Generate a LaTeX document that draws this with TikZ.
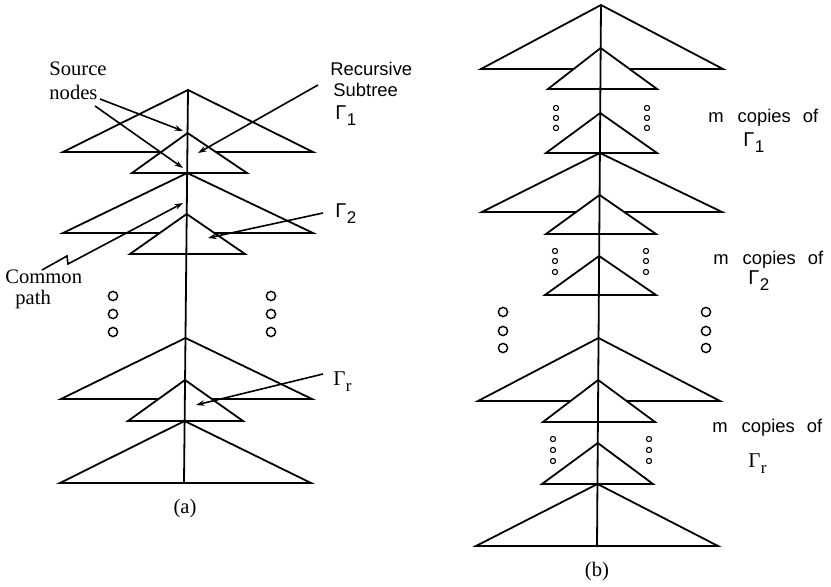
\documentclass[tikz,border=0pt]{standalone}
\usepackage{fontspec}
\setmainfont{Liberation Serif}
\setsansfont{Liberation Sans}
\usetikzlibrary{arrows.meta}
\newcommand\tritop[5]{\draw[tri] (#1,#2) -- (#4,#3) -- (#5,#3) -- cycle;}
\newcommand\gsub[2]{#1\kern0.2pt\raisebox{-2.8pt}{\fontsize{8.5}{9}\selectfont #2}}
\begin{document}
\begin{tikzpicture}[x=0.5pt,y=-0.5pt,
  tri/.style={draw=black, fill=white, line width=0.9pt, line join=miter},
  stem/.style={draw=black, line width=0.9pt},
  arr/.style={draw=black, line width=0.8pt, -{Stealth[length=4.2pt,width=2.8pt]}},
  dotbig/.style={draw=black, line width=0.7pt},
  dotsmall/.style={draw=black, line width=0.55pt},
  serlab/.style={font=\fontsize{10.3}{12}\selectfont, inner sep=0pt},
  sanslab/.style={font=\sffamily\fontsize{9.2}{11}\selectfont, inner sep=0pt},
  copylab/.style={font=\sffamily\fontsize{9.2}{11}\selectfont, inner sep=0pt},
  gam/.style={font=\sffamily\fontsize{10}{12}\selectfont, inner sep=0pt},
  gamser/.style={font=\fontsize{10.5}{12}\selectfont, inner sep=0pt}
]
\useasboundingbox (0,0) rectangle (831,587);

% ---------- (a) ----------
\tritop{188}{90}{152}{63}{313}
\tritop{187.6}{133}{173}{132}{247}
\tritop{187.2}{173}{233}{63}{313}
\tritop{186.7}{214}{254}{130}{245}
\tritop{185.5}{338}{399}{61}{312}
\tritop{185}{380}{421}{128}{243}
\tritop{184.6}{421}{483}{60}{311}
\draw[stem] (188,90) -- (184,483);

\foreach \yy in {296,314,332}{
  \draw[dotbig] (113,\yy) circle[radius=2.3pt];
  \draw[dotbig] (271,\yy) circle[radius=2.3pt];
}

\node[serlab, anchor=base west] (src1) at (49,76) {Source};
\node[serlab, anchor=base west] (src2) at (49,100) {nodes};
\node[sanslab, anchor=base west] (rec1) at (330,76) {Recursive};
\node[sanslab, anchor=base west] (rec2) at (333,97) {Subtree};
\node[gam, anchor=base west] (g1a) at (335,120) {\gsub{Γ}{1}};
\node[gam, anchor=base west] (g2a) at (335,218) {\gsub{Γ}{2}};
\node[gamser, anchor=base west] (gra) at (333,386) {\gsub{Γ}{r}};
\node[serlab, anchor=base west] (com1) at (5,284) {Common};
\node[serlab, anchor=base west] (com2) at (15,305) {path};
\node[serlab, anchor=base] (capa) at (185,514) {(a)};

\coordinate (sA0) at (100,99);
\coordinate (sA1) at (183,131);
\coordinate (sB0) at (95,106);
\coordinate (sB1) at (183,168);
\coordinate (rc0) at (318,85);
\coordinate (rc1) at (198,153);
\coordinate (g20) at (323,213);
\coordinate (g21) at (208,238);
\coordinate (gr0) at (323,374);
\coordinate (gr1) at (196,405);
\coordinate (cp0) at (42,270);
\coordinate (cpa) at (67,256);
\coordinate (cpb) at (68,264);
\coordinate (cp1) at (183,203);

\draw[arr] (sA0) -- (sA1);
\draw[arr] (sB0) -- (sB1);
\draw[arr] (rc0) -- (rc1);
\draw[arr] (g20) -- (g21);
\draw[arr] (gr0) -- (gr1);
\draw[arr] (cp0) -- (cpa) -- (cpb) -- (cp1);

% ---------- (b) ----------
\tritop{601}{5}{69}{481}{723}
\tritop{600.7}{48}{89}{548}{657}
\tritop{600.2}{113}{153}{546}{657}
\tritop{599.9}{153}{212}{482}{722}
\tritop{599.6}{195}{234}{546}{656}
\tritop{599.1}{256}{295}{545}{656}
\tritop{598.5}{338}{401}{478}{720}
\tritop{598.2}{380}{422}{543}{655}
\tritop{597.8}{443}{484}{542}{653}
\tritop{597.5}{484}{546}{476}{718}
\draw[stem] (601,5) -- (597,547);

\foreach \yy in {108,118,128}{
  \draw[dotsmall] (556,\yy) circle[radius=1.3pt];
  \draw[dotsmall] (647,\yy) circle[radius=1.3pt];
}
\foreach \yy in {251,261,272}{
  \draw[dotsmall] (555,\yy) circle[radius=1.3pt];
  \draw[dotsmall] (646,\yy) circle[radius=1.3pt];
}
\foreach \yy in {439,450,461}{
  \draw[dotsmall] (553,\yy) circle[radius=1.3pt];
  \draw[dotsmall] (649,\yy) circle[radius=1.3pt];
}
\foreach \yy in {312,331,348}{
  \draw[dotbig] (503,\yy) circle[radius=2.3pt];
  \draw[dotbig] (706,\yy) circle[radius=2.3pt];
}

\node[copylab, anchor=base west] (mc1) at (708,123) {m\hspace{7pt}copies\hspace{6pt}of};
\node[gam, anchor=base west] (g1b) at (743,147) {\gsub{Γ}{1}};
\node[copylab, anchor=base west] (mc2) at (713,265) {m\hspace{7pt}copies\hspace{6pt}of};
\node[gam, anchor=base west] (g2b) at (748,285) {\gsub{Γ}{2}};
\node[copylab, anchor=base west] (mc3) at (712,433) {m\hspace{7pt}copies\hspace{6pt}of};
\node[gamser, anchor=base west] (grb) at (748,468) {\gsub{Γ}{r}};
\node[serlab, anchor=base] (capb) at (597,577) {(b)};
\end{tikzpicture}
\end{document}
